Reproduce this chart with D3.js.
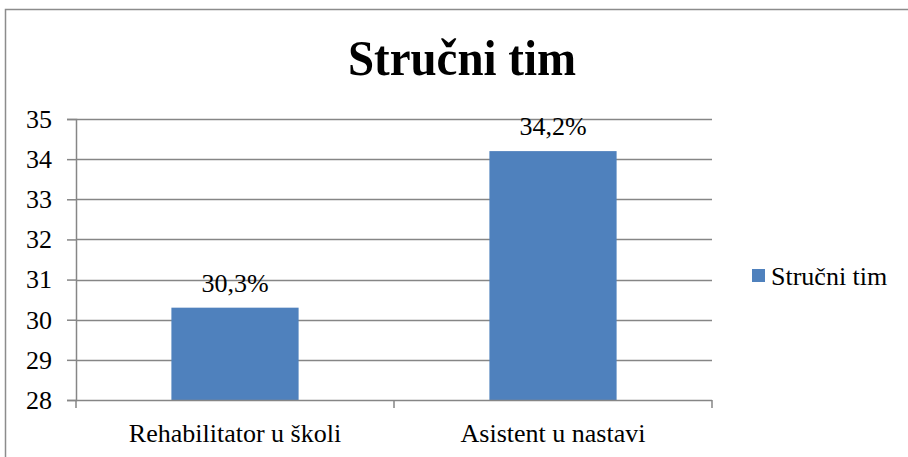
<!DOCTYPE html>
<html>
<head>
<meta charset="utf-8">
<script src="https://cdn.jsdelivr.net/npm/d3@7"></script>
<style>
  body { margin: 0; background: #fff; }
  svg { display: block; font-family: "Liberation Serif", "Times New Roman", serif; }
</style>
</head>
<body>
<script>
// data
const categories = ["Rehabilitator u školi", "Asistent u nastavi"];
const values = [30.3, 34.2];
const valueLabels = ["30,3%", "34,2%"];
const seriesName = "Stručni tim";
const yTicks = [28, 29, 30, 31, 32, 33, 34, 35];

const width = 908, height = 457;
const margin = {top: 119, right: 196, bottom: 57, left: 76};
const fontSize = "26px";

const svg = d3.select("body").append("svg").attr("width", width).attr("height", height);

// outer frame
svg.append("rect")
   .attr("x", 5.5).attr("y", 9.5)
   .attr("width", 940).attr("height", 480)
   .attr("fill", "none").attr("stroke", "#8c8c8c").attr("stroke-width", 1.5);

// title (the original is drawn a bit narrow, so squeeze it to its width)
svg.append("text")
   .attr("x", 348).attr("y", 75)
   .attr("textLength", 228).attr("lengthAdjust", "spacingAndGlyphs")
   .style("font-size", "50px").style("font-weight", "bold")
   .text(seriesName);

// scales
const x = d3.scaleBand().domain(categories)
            .range([margin.left, width - margin.right])
            .paddingInner(0.6).paddingOuter(0.3);
const y = d3.scaleLinear().domain([28, 35]).range([height - margin.bottom, margin.top]);

const gridColor = "#868686";

// gridlines
svg.append("g").selectAll("line")
   .data(yTicks.slice(1))
   .enter().append("line")
   .attr("x1", margin.left).attr("x2", width - margin.right)
   .attr("y1", d => Math.round(y(d)) + 0.5).attr("y2", d => Math.round(y(d)) + 0.5)
   .attr("stroke", gridColor).attr("stroke-width", 1.5);

// y axis
const yAxis = svg.append("g")
   .attr("transform", `translate(${margin.left},0)`)
   .call(d3.axisLeft(y).tickValues(yTicks).tickFormat(d3.format("d")).tickSize(9).tickPadding(15));
yAxis.attr("font-family", null).attr("font-size", null);
yAxis.select(".domain").attr("stroke", gridColor).attr("stroke-width", 1.5);
yAxis.selectAll(".tick line").attr("stroke", gridColor).attr("stroke-width", 1.5);
yAxis.selectAll("text").style("font-size", fontSize).attr("fill", "#000");

// bars
svg.append("g").selectAll("rect")
   .data(values)
   .enter().append("rect")
   .attr("x", (d, i) => x(categories[i]))
   .attr("y", d => y(d))
   .attr("width", x.bandwidth())
   .attr("height", d => y(28) - y(d))
   .attr("fill", "#4f81bd");

// value labels
svg.append("g").selectAll("text")
   .data(values)
   .enter().append("text")
   .attr("x", (d, i) => x(categories[i]) + x.bandwidth() / 2)
   .attr("y", d => y(d) - 16)
   .attr("text-anchor", "middle")
   .style("font-size", fontSize)
   .text((d, i) => valueLabels[i]);

// x axis
const step = x.step();
const xAxis = svg.append("g");
xAxis.append("line")
     .attr("x1", margin.left).attr("x2", width - margin.right)
     .attr("y1", y(28) + 0.5).attr("y2", y(28) + 0.5)
     .attr("stroke", gridColor).attr("stroke-width", 1.5);
xAxis.selectAll("line.tk")
     .data(d3.range(categories.length + 1))
     .enter().append("line").attr("class", "tk")
     .attr("x1", i => margin.left + i * step).attr("x2", i => margin.left + i * step)
     .attr("y1", y(28)).attr("y2", y(28) + 8)
     .attr("stroke", gridColor).attr("stroke-width", 1.5);
xAxis.selectAll("text")
     .data(categories)
     .enter().append("text")
     .attr("x", d => x(d) + x.bandwidth() / 2)
     .attr("y", y(28) + 42)
     .attr("text-anchor", "middle")
     .style("font-size", fontSize)
     .text(d => d);

// legend
const legend = svg.append("g").attr("transform", "translate(752,269)");
legend.append("rect").attr("width", 13).attr("height", 13).attr("fill", "#4f81bd");
legend.append("text").attr("x", 19).attr("y", 16).style("font-size", fontSize).text(seriesName);
</script>
</body>
</html>
